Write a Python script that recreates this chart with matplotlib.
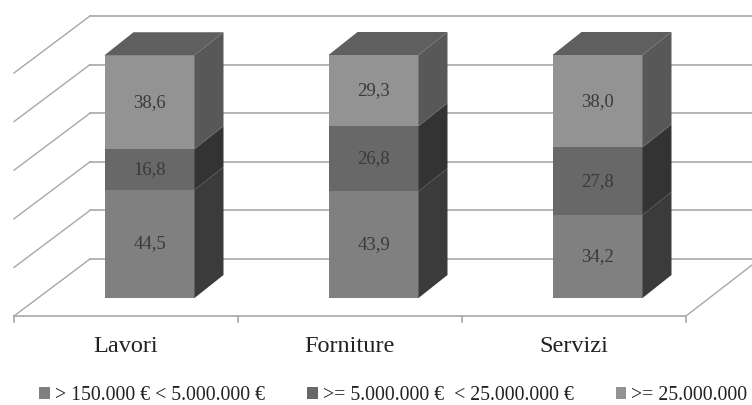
"""Stacked 3D-look bars, drawn as oblique projection on a flat axes."""

import matplotlib
matplotlib.use("Agg")
import matplotlib.pyplot as plt
from matplotlib.patches import Patch, Polygon

plt.rcParams["font.family"] = ["Liberation Serif", "DejaVu Serif"]

categories = ["Lavori", "Forniture", "Servizi"]
series_names = ["> 150.000 € < 5.000.000 €",
                ">= 5.000.000 €  < 25.000.000 €",
                ">= 25.000.000"]
low = [44.5, 43.9, 34.2]
mid = [16.8, 26.8, 27.8]
high = [38.6, 29.3, 38.0]
labels_low = ["44,5", "43,9", "34,2"]
labels_mid = ["16,8", "26,8", "27,8"]
labels_high = ["38,6", "29,3", "38,0"]
grid_values = [0, 20, 40, 60, 80, 100]

front_colors = ["#808080", "#686868", "#939393"]
side_colors = ["#3b3b3b", "#333333", "#585858"]
top_color = "#5f5f5f"
grid_color = "#a8a8a8"
text_color = "#3a3a3a"

# pixel scale of the reference
PX_X = 224.0   # px per category
PX_Y = 2.43    # px per percent
X0 = 149.5     # px of first category centre
Y0 = 298.0     # px of value 0 on the bar front
W = 752
H = 405


def dx(px):
    return px / PX_X


def dy(px):
    return px / PX_Y


fig = plt.figure(figsize=(7.52, 4.05), dpi=100)
ax = fig.add_axes([0, 0, 1, 1])
ax.set_xlim(-X0 / PX_X, (W - X0) / PX_X)
ax.set_ylim(-(H - Y0) / PX_Y, Y0 / PX_Y)
ax.axis("off")

bar_w = dx(90)
depth_x = dx(29)
depth_y = dy(23)

# floor lines and walls
left_front = -X0 / PX_X + dx(14)
left_back = -X0 / PX_X + dx(90)
wall_base = dy(39)
floor_y = dy(-18)
for v in grid_values:
    y = wall_base + v
    ax.plot([left_back, (W - X0) / PX_X], [y, y], color=grid_color, lw=1.2, zorder=1)
    ax.plot([left_front, left_back], [y - dy(57), y], color=grid_color, lw=1.0, zorder=1)

right_front = left_front + 3
ax.plot([left_front, right_front], [floor_y, floor_y], color=grid_color, lw=1.2, zorder=1)
ax.plot([right_front, right_front + dx(66)], [floor_y, floor_y + dy(51)],
        color=grid_color, lw=1.0, zorder=1)
for i in range(4):
    x = left_front + i
    ax.plot([x, x], [floor_y, floor_y - dy(6)], color=grid_color, lw=1.2, zorder=1)

# stacked bars
bottoms = [0.0, 0.0, 0.0]
stack = [(low, labels_low), (mid, labels_mid), (high, labels_high)]
xs = list(range(len(categories)))
for s, (vals, labs) in enumerate(stack):
    ax.bar(xs, vals, width=bar_w, bottom=bottoms, color=front_colors[s], lw=0, zorder=3)
    for i, v in enumerate(vals):
        b = bottoms[i]
        r = i + bar_w / 2
        ax.add_patch(Polygon([(r, b), (r + depth_x, b + depth_y),
                              (r + depth_x, b + v + depth_y), (r, b + v)],
                             closed=True, fc=side_colors[s], lw=0, zorder=3))
        ax.text(i, b + v / 2, labs[i], ha="center", va="center",
                fontsize=13.5, color=text_color, zorder=5)
        bottoms[i] = b + v

for i, t in enumerate(bottoms):
    l = i - bar_w / 2
    r = i + bar_w / 2
    ax.add_patch(Polygon([(l, t), (r, t), (r + depth_x, t + depth_y), (l + depth_x, t + depth_y)],
                         closed=True, fc=top_color, lw=0, zorder=3))

# category labels sit left of the bars, as in the original
for i, c in enumerate(categories):
    ax.text(i - dx(24), dy(-49), c, ha="center", va="center", fontsize=17.5, color="#222222")

handles = [Patch(fc=front_colors[i], lw=0) for i in range(3)]
fig.legend(handles, series_names, loc="center left", bbox_to_anchor=(0.052, 0.024), ncol=3,
           frameon=False, fontsize=14.25, handlelength=0.55, handleheight=0.55,
           handletextpad=0.25, columnspacing=2.12, labelcolor="#222222",
           borderpad=0, borderaxespad=0)

fig.savefig("out.png", dpi=100)
